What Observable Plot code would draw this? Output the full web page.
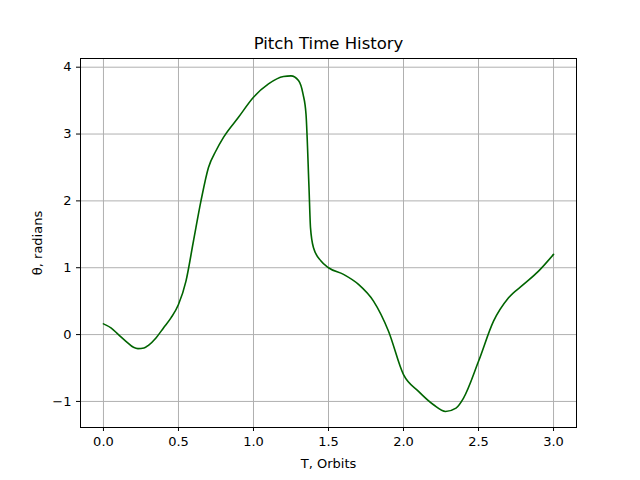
<!DOCTYPE html>
<html><head><meta charset="utf-8">
<script src="https://cdn.jsdelivr.net/npm/d3@7"></script>
<script src="https://cdn.jsdelivr.net/npm/@observablehq/plot@0.6"></script>
<style>body{margin:0;background:#fff;font-family:"DejaVu Sans",sans-serif}</style>
</head><body><div id="chart"></div>
<script>
const orbits = [0,0.05,0.1,0.15,0.2,0.23,0.27,0.3,0.35,0.4,0.45,0.5,0.55,0.6,0.65,0.7,0.75,0.8,0.9,1.0,1.1,1.2,1.25,1.3,1.33,1.35,1.37,1.38,1.4,1.45,1.5,1.6,1.7,1.8,1.9,2.0,2.1,2.2,2.28,2.35,2.4,2.5,2.6,2.7,2.8,2.9,3.0];
const pitch = [0.16,0.10,0.0,-0.1,-0.19,-0.21,-0.2,-0.16,-0.05,0.1,0.25,0.45,0.8,1.4,2.0,2.5,2.75,2.95,3.25,3.55,3.75,3.86,3.87,3.8,3.6,3.3,2.2,1.6,1.3,1.1,1.0,0.9,0.75,0.5,0.05,-0.6,-0.85,-1.05,-1.15,-1.1,-0.95,-0.4,0.2,0.55,0.75,0.95,1.2];
const xTicks = [0,0.5,1,1.5,2,2.5,3];
const yTicks = [-1,0,1,2,3,4];
const data = orbits.map((t, i) => ({t, v: pitch[i]}));

const chart = Plot.plot({
  width: 640, height: 480,
  marginLeft: 80, marginRight: 64, marginTop: 58, marginBottom: 53,
  style: {fontFamily: "DejaVu Sans", fontSize: "13px", color: "#000", background: "#fff"},
  x: {domain: [-0.153, 3.153], ticks: xTicks, tickFormat: d3.format(".1f"), tickSize: 4, label: "T, Orbits", labelArrow: "none", labelAnchor: "center", labelOffset: 40},
  y: {domain: [-1.39, 4.13], ticks: yTicks, tickFormat: d => d < 0 ? "\u2212" + Math.abs(d) : d, tickSize: 4, label: "θ, radians", labelArrow: "none", labelAnchor: "center", labelOffset: 48},
  marks: [
    Plot.gridX(xTicks, {stroke: "#b0b0b0", strokeOpacity: 1}),
    Plot.gridY(yTicks, {stroke: "#b0b0b0", strokeOpacity: 1}),
    Plot.frame({stroke: "#000"}),
    Plot.line(data, {x: "t", y: "v", stroke: "darkgreen", strokeWidth: 1.6, curve: "monotone-x"}),
    Plot.text(["Pitch Time History"], {frameAnchor: "top", dy: -21, fontSize: 16.5, fill: "#000"})
  ]
});
document.getElementById("chart").replaceChildren(chart);
</script></body></html>
